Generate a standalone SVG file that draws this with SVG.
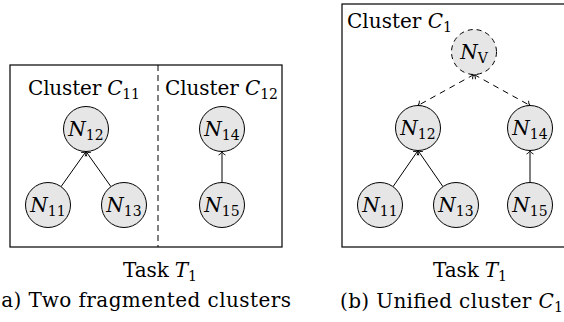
<svg xmlns="http://www.w3.org/2000/svg" width="564" height="322" viewBox="0 0 564 322">
<style>
text{font-family:"DejaVu Serif",serif;font-size:20px;fill:#000}
.m{font-style:italic}
.s{font-size:14px;font-style:normal}
.node circle{fill:#e6e6e6;stroke:#000;stroke-width:1}
.node text{text-anchor:middle}
.box{fill:none;stroke:#000;stroke-width:1.2}
.edge{stroke:#000;stroke-width:1;fill:none}
.dash{stroke-dasharray:6 5}
</style>
<defs>
<marker id="ah" markerUnits="userSpaceOnUse" markerWidth="10" markerHeight="10" refX="0" refY="0" orient="auto-start-reverse" overflow="visible">
<path d="M-3.5,-3.5 C-2.5,-1.2 -0.8,-0.3 0,0 C-0.8,0.3 -2.5,1.2 -3.5,3.5" fill="none" stroke="#000" stroke-width="0.9"/>
</marker>
</defs>
<!-- Panel (a) -->
<g id="panel-a">
<rect class="box" x="10" y="65" width="272" height="182"/>
<line x1="158" y1="65" x2="158" y2="247" stroke="#000" stroke-width="1" stroke-dasharray="6 4"/>
<text x="28" y="95" textLength="112">Cluster <tspan class="m">C</tspan><tspan class="s" dy="4">11</tspan></text>
<text x="165" y="95" textLength="113">Cluster <tspan class="m">C</tspan><tspan class="s" dy="4">12</tspan></text>
<text x="123" y="277" textLength="74">Task <tspan class="m">T</tspan><tspan class="s" dy="4">1</tspan></text>
<text x="-7" y="307" textLength="298">(a) Two fragmented clusters</text>
</g>

<g id="connectors-a">
<line class="edge" x1="61" y1="186.7" x2="86" y2="151.5" marker-end="url(#ah)"/>
<line class="edge" x1="111" y1="186.7" x2="86" y2="151.5" marker-end="url(#ah)"/>
<line class="edge" x1="222" y1="182.5" x2="222" y2="151.5" marker-end="url(#ah)"/>
</g>

<g id="a-N12" class="node"><circle cx="86" cy="129" r="22.5"/><text x="86" y="136"><tspan class="m">N</tspan><tspan class="s" dy="4">12</tspan></text></g>
<g id="a-N11" class="node"><circle cx="48" cy="205" r="22.5"/><text x="48" y="212"><tspan class="m">N</tspan><tspan class="s" dy="4">11</tspan></text></g>
<g id="a-N13" class="node"><circle cx="124" cy="205" r="22.5"/><text x="124" y="212"><tspan class="m">N</tspan><tspan class="s" dy="4">13</tspan></text></g>
<g id="a-N14" class="node"><circle cx="222" cy="129" r="22.5"/><text x="222" y="136"><tspan class="m">N</tspan><tspan class="s" dy="4">14</tspan></text></g>
<g id="a-N15" class="node"><circle cx="222" cy="205" r="22.5"/><text x="222" y="212"><tspan class="m">N</tspan><tspan class="s" dy="4">15</tspan></text></g>

<!-- Panel (b) -->
<g id="panel-b">
<rect class="box" x="342" y="4" width="240" height="243"/>
<text x="347" y="28" textLength="105">Cluster <tspan class="m">C</tspan><tspan class="s" dy="4">1</tspan></text>
<text x="433" y="277" textLength="74">Task <tspan class="m">T</tspan><tspan class="s" dy="4">1</tspan></text>
<text x="340" y="308" textLength="223">(b) Unified cluster <tspan class="m">C</tspan><tspan class="s" dy="4">1</tspan></text>
</g>

<g id="connectors-b">
<line class="edge dash" x1="474" y1="74.5" x2="418" y2="105.5" marker-start="url(#ah)" marker-end="url(#ah)"/>
<line class="edge dash" x1="474" y1="74.5" x2="530" y2="105.5" marker-start="url(#ah)" marker-end="url(#ah)"/>
<line class="edge" x1="393" y1="186.7" x2="418" y2="150.5" marker-end="url(#ah)"/>
<line class="edge" x1="443" y1="186.7" x2="418" y2="150.5" marker-end="url(#ah)"/>
<line class="edge" x1="530" y1="182.5" x2="530" y2="150.5" marker-end="url(#ah)"/>
</g>

<g id="b-NV" class="node"><circle cx="474" cy="52" r="22.5" stroke-dasharray="5 4"/><text x="474" y="59"><tspan class="m">N</tspan><tspan class="s m" dy="4">V</tspan></text></g>
<g id="b-N12" class="node"><circle cx="418" cy="128" r="22.5"/><text x="418" y="135"><tspan class="m">N</tspan><tspan class="s" dy="4">12</tspan></text></g>
<g id="b-N14" class="node"><circle cx="530" cy="128" r="22.5"/><text x="530" y="135"><tspan class="m">N</tspan><tspan class="s" dy="4">14</tspan></text></g>
<g id="b-N11" class="node"><circle cx="380" cy="205" r="22.5"/><text x="380" y="212"><tspan class="m">N</tspan><tspan class="s" dy="4">11</tspan></text></g>
<g id="b-N13" class="node"><circle cx="456" cy="205" r="22.5"/><text x="456" y="212"><tspan class="m">N</tspan><tspan class="s" dy="4">13</tspan></text></g>
<g id="b-N15" class="node"><circle cx="530" cy="205" r="22.5"/><text x="530" y="212"><tspan class="m">N</tspan><tspan class="s" dy="4">15</tspan></text></g>
</svg>
